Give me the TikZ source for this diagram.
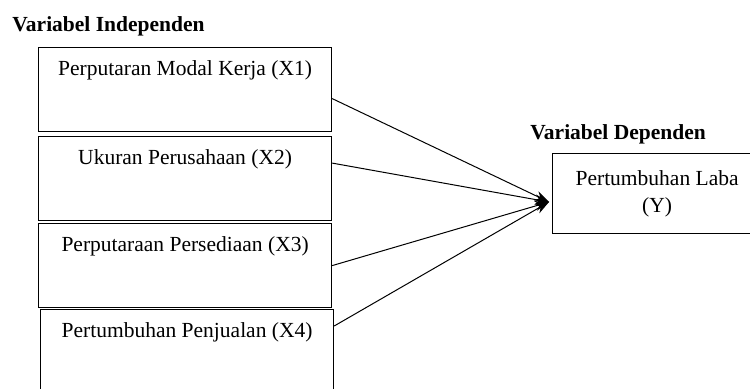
\documentclass[tikz,border=0pt]{standalone}
\usepackage{fontspec}
\setmainfont{Liberation Serif}
\usetikzlibrary{arrows.meta}

\begin{document}
\begin{tikzpicture}[x=0.5pt, y=-0.5pt, >={Stealth[length=7pt, width=5pt]},
  every node/.style={font=\fontsize{10.75}{13.5}\selectfont},
  heading/.style={font=\fontsize{10.75}{13.5}\selectfont\bfseries, anchor=base west, inner sep=0pt},
  varbox/.style={draw, line width=0.6pt, anchor=north west, minimum width=146.5pt, inner ysep=4pt, text height=10pt, text depth=24pt},
  depbox/.style={draw, line width=0.6pt, anchor=north west, minimum width=104.5pt, minimum height=40pt, align=center},
  link/.style={->, line width=0.5pt}]
  \clip (0,0) rectangle (750,389);

  % headings
  \node[heading] (indep) at (12,32) {Variabel Independen};
  \node[heading] (dep) at (530,140) {Variabel Dependen};

  % nodes
  \node[varbox] (x1) at (38,47) {Perputaran Modal Kerja (X1)};
  \node[varbox] (x2) at (38,136) {Ukuran Perusahaan (X2)};
  \node[varbox] (x3) at (38,223) {Perputaraan Persediaan (X3)};
  \node[varbox] (x4) at (40,309) {Pertumbuhan Penjualan (X4)};
  \node[depbox] (y) at (552,153) {Pertumbuhan Laba\\(Y)};
  \coordinate (tip) at (549,202);

  % arrows
  \draw[link] ([yshift=-4.5pt]x1.east) -- (tip);
  \draw[link] ([yshift=7.75pt]x2.east) -- (tip);
  \draw[link] (x3.east) -- (tip);
  \draw[link] ([yshift=-8.5pt]x4.north east) -- (tip);
\end{tikzpicture}
\end{document}
